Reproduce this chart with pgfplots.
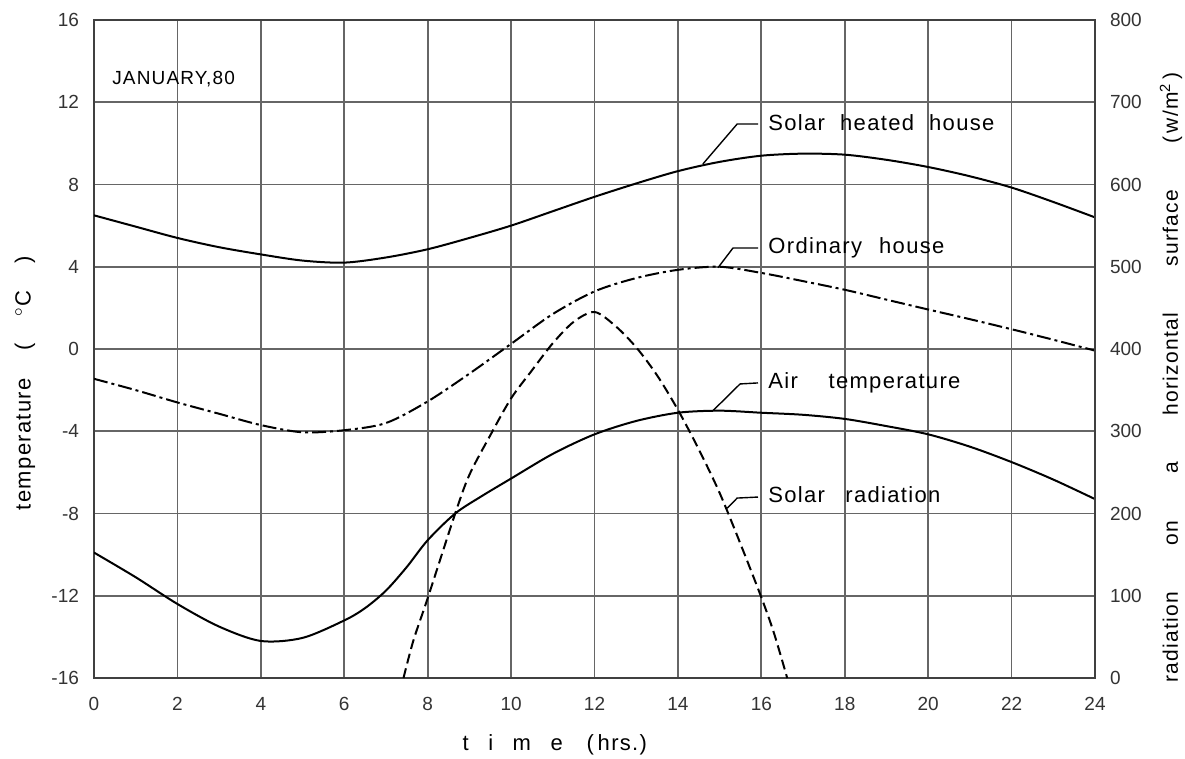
\documentclass[border=0pt]{standalone}
\usepackage{fontspec}
\setmainfont{Liberation Sans}
\newfontfamily\lab[LetterSpace=6]{Liberation Sans}
\usepackage{pgfplots}
\pgfplotsset{compat=1.18}
\usetikzlibrary{calc}

\pgfplotstableread{
x y
0 6.5
1 5.95
2 5.4
3 4.95
4 4.6
5 4.3
6 4.2
7 4.45
8 4.85
9 5.4
10 6.0
11 6.7
12 7.4
13 8.05
14 8.65
15 9.1
16 9.4
17 9.5
18 9.45
19 9.2
20 8.85
21 8.4
22 7.85
23 7.15
24 6.4
}\solarhouse

\pgfplotstableread{
x y
0 -1.45
1 -2.0
2 -2.6
3 -3.15
4 -3.7
5 -4.05
6 -3.95
7 -3.6
8 -2.55
9 -1.2
10 0.25
11 1.7
12 2.8
13 3.45
14 3.85
15 4.0
16 3.7
17 3.3
18 2.88
19 2.4
20 1.92
21 1.45
22 0.96
23 0.45
24 -0.08
}\ordinary

\pgfplotstableread{
x y
0 -9.9
1 -11.1
2 -12.4
3 -13.5
4 -14.2
5 -14.05
6 -13.2
6.5 -12.6
7 -11.75
7.5 -10.6
8 -9.3
8.66 -8.0
9.3 -7.15
10 -6.3
11 -5.1
12 -4.15
13 -3.5
14 -3.1
15 -3.0
16 -3.1
17 -3.2
18 -3.4
19 -3.75
20 -4.15
21 -4.75
22 -5.5
23 -6.35
24 -7.3
}\airtemp

\pgfplotstableread{
x y
7.42 0
7.66 46
8 97
8.66 200
9 247
9.5 295
10 340
10.5 374
11 407
11.5 433
12 445
12.5 428
13 402
13.5 368
14 326
14.5 278
15 225
15.5 163
16 98
16.3 55
16.62 0
}\radiation

\begin{document}
\begin{tikzpicture}
\begin{axis}[
  name=main,
  scale only axis, width=500.5pt, height=329pt,
  xmin=0, xmax=24, ymin=-16, ymax=16,
  xtick={0,2,...,24}, ytick={-16,-12,...,16},
  grid=major,
  grid style={line width=0.9pt, black!60},
  axis line style={line width=0.9pt, black!75},
  major tick length=0pt,
  tick label style={font=\fontsize{9.5}{10}\selectfont, text=black!80},
  /pgf/number format/assume math mode=true,
  xticklabel style={yshift=-6pt},
  yticklabel style={xshift=-4pt},
  clip mode=individual,
]
\addplot[black, line width=1pt, smooth] table {\solarhouse};
\addplot[black, line width=1pt, smooth, dash pattern=on 7pt off 2pt on 1.5pt off 2pt] table {\ordinary};
\addplot[black, line width=1pt, smooth] table {\airtemp};

% leader lines
\draw[black, line width=0.7pt] (axis cs:14.6,9.0) -- (axis cs:15.42,10.94) -- (axis cs:15.92,10.94);
\draw[black, line width=0.7pt] (axis cs:14.96,3.95) -- (axis cs:15.32,4.91) -- (axis cs:15.92,4.91);
\draw[black, line width=0.7pt] (axis cs:14.84,-3.0) -- (axis cs:15.49,-1.70) -- (axis cs:15.92,-1.65);
\draw[black, line width=0.7pt] (axis cs:15.18,-7.75) -- (axis cs:15.42,-7.25) -- (axis cs:15.92,-7.2);

\node[anchor=west, inner sep=0pt, font=\lab\fontsize{11}{12}\selectfont] at (axis cs:16.16,11.0) {\makebox[113pt][s]{Solar heated house}};
\node[anchor=west, inner sep=0pt, font=\lab\fontsize{11}{12}\selectfont] at (axis cs:16.16,4.9) {\makebox[88pt][s]{Ordinary house}};
\node[anchor=west, inner sep=0pt, font=\lab\fontsize{11}{12}\selectfont] at (axis cs:16.16,-1.65) {\makebox[96pt][s]{Air temperature}};
\node[anchor=west, inner sep=0pt, font=\lab\fontsize{11}{12}\selectfont] at (axis cs:16.16,-7.1) {\makebox[86pt][s]{Solar radiation}};
\node[anchor=west, inner sep=0pt, font=\lab\fontsize{9.5}{10}\selectfont] at (axis cs:0.43,13.13) {JANUARY,80};

\node[inner sep=0pt, yshift=-33.5pt, font=\lab\fontsize{11}{12}\selectfont] at (axis cs:11.05,-16) {\makebox[50pt][s]{t i m e}\hspace{12pt}(\,hrs.)};
\node[inner sep=0pt, xshift=-34.5pt, rotate=90, font=\lab\fontsize{11}{12}\selectfont] at (axis cs:0,-1.66) {\makebox[127pt][s]{temperature ( $^{\circ}$C )}};
\node[inner sep=0pt, xshift=38pt, rotate=90, font=\lab\fontsize{10.5}{12}\selectfont] at (axis cs:24,-1.38) {\makebox[305pt][s]{radiation on a horizontal surface (\,w/m\textsuperscript{2}\,)}};
\end{axis}
\begin{axis}[
  scale only axis, width=500.5pt, height=329pt,
  xmin=0, xmax=24, ymin=0, ymax=800,
  ytick={0,100,...,800},
  axis y line*=right, axis x line=none,
  axis line style={line width=0.9pt, black!75},
  major tick length=0pt,
  tick label style={font=\fontsize{9.5}{10}\selectfont, text=black!80},
  /pgf/number format/assume math mode=true,
  yticklabel style={xshift=4pt},
]
\addplot[black, line width=1pt, smooth, dash pattern=on 5pt off 2.5pt] table {\radiation};
\end{axis}
\pgfresetboundingbox
\path ($(main.south west)+(-47pt,-40pt)$) rectangle ($(main.north east)+(45pt,10pt)$);
\end{tikzpicture}
\end{document}
